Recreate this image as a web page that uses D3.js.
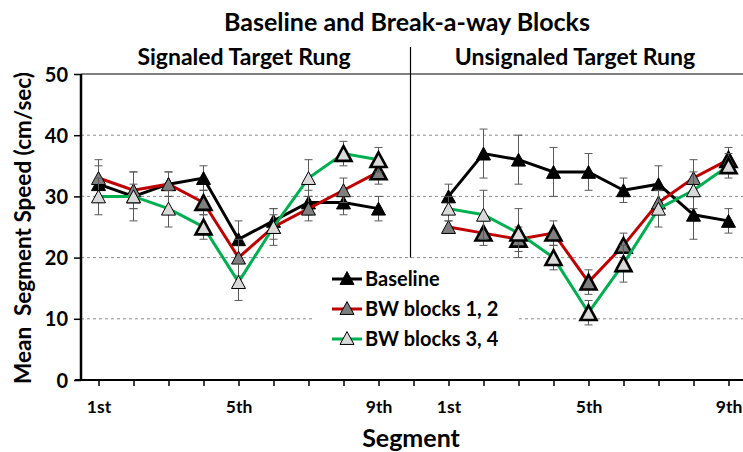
<!DOCTYPE html>
<html><head><meta charset="utf-8">
<script src="https://cdn.jsdelivr.net/npm/d3@7"></script>
<style>
body{margin:0;background:#fff}
text{font-family:Lato,"Open Sans",sans-serif;font-weight:bold;fill:#000}
</style>
</head><body>
<svg id="chart" width="743" height="452"></svg>
<script>
// ---------- data ----------
const chartTitle = "Baseline and Break-a-way Blocks";
const panelTitles = ["Signaled Target Rung", "Unsignaled Target Rung"];
const segmentLabels = ["1st", "", "", "", "5th", "", "", "", "9th"];
const yTicks = [0, 10, 20, 30, 40, 50];
const seriesNames = ["Baseline", "BW blocks 1, 2", "BW blocks 3, 4"];

const baselineSignaled   = [32, 30, 32, 33, 23, 26, 29, 29, 28];
const baselineUnsignaled = [30, 37, 36, 34, 34, 31, 32, 27, 26];
const bw12Signaled       = [33, 31, 32, 29, 20, 25, 28, 31, 34];
const bw12Unsignaled     = [25, 24, 23, 24, 16, 22, 29, 33, 36];
const bw34Signaled       = [30, 30, 28, 25, 16, 25, 33, 37, 36];
const bw34Unsignaled     = [28, 27, 24, 20, 11, 19, 28, 31, 35];

const baselineErrSignaled   = [3, 2, 2, 2, 3, 2, 2, 2, 2];
const baselineErrUnsignaled = [2, 4, 4, 4, 3, 2, 3, 4, 2];
const bw12ErrSignaled       = [3, 3, 2, 2, 3, 2, 2, 2, 2];
const bw12ErrUnsignaled     = [1, 2, 2, 2, 2, 2, 2, 3, 2];
const bw34ErrSignaled       = [3, 4, 3, 2, 3, 3, 3, 2, 2];
const bw34ErrUnsignaled     = [2, 4, 4, 2, 2, 3, 3, 3, 2];

// emphasised (bold-outlined) markers
const baselineSigSignaled   = [0, 0, 0, 0, 0, 0, 0, 0, 0];
const baselineSigUnsignaled = [0, 0, 0, 0, 0, 0, 0, 0, 0];
const bw12SigSignaled       = [0, 0, 0, 1, 0, 0, 0, 0, 1];
const bw12SigUnsignaled     = [0, 1, 1, 1, 1, 1, 0, 0, 1];
const bw34SigSignaled       = [0, 0, 0, 1, 0, 0, 0, 1, 1];
const bw34SigUnsignaled     = [0, 0, 1, 1, 1, 1, 0, 0, 1];

// ---------- build ----------
const styles = [
  {line: "#000000", fill: "#000000"},
  {line: "#C00000", fill: "#7F7F7F"},
  {line: "#00B050", fill: "#D9D9D9"}
];
const seriesData = [
  [baselineSignaled, baselineUnsignaled, baselineErrSignaled, baselineErrUnsignaled, baselineSigSignaled, baselineSigUnsignaled],
  [bw12Signaled, bw12Unsignaled, bw12ErrSignaled, bw12ErrUnsignaled, bw12SigSignaled, bw12SigUnsignaled],
  [bw34Signaled, bw34Unsignaled, bw34ErrSignaled, bw34ErrUnsignaled, bw34SigSignaled, bw34SigUnsignaled]
].map((s, k) => ({
  name: seriesNames[k],
  style: styles[k],
  panels: [0, 1].map(p => s[p].map((v, i) => ({pos: p * 10 + i, v, e: s[2 + p][i], sig: s[4 + p][i]})))
}));

const allLabels = segmentLabels.concat([""], segmentLabels);
const positions = d3.range(allLabels.length);

const svg = d3.select("#chart");
const pLeft = 81, pTop = 74, pBottom = 380, pRight = 743;
const x = d3.scalePoint().domain(positions).range([pLeft, pLeft + 19 * 35.0]).padding(0.5);
const y = d3.scaleLinear().domain([0, 50]).range([pBottom, pTop]);

// gridlines
svg.append("g").selectAll("line").data(yTicks.filter(t => t > 0 && t < 50)).join("line")
  .attr("x1", pLeft).attr("x2", pRight).attr("y1", d => y(d)).attr("y2", d => y(d))
  .attr("stroke", "#8c8c8c").attr("stroke-width", 1).attr("stroke-dasharray", "3,3");
// top border
svg.append("line").attr("x1", pLeft).attr("x2", pRight).attr("y1", y(50)).attr("y2", y(50))
  .attr("stroke", "#000").attr("stroke-width", 1);

// divider
const divX = (x(8) + x(10)) / 2 - 3;
svg.append("line").attr("x1", divX).attr("x2", divX).attr("y1", 47).attr("y2", y(20))
  .attr("stroke", "#000").attr("stroke-width", 1.2);

// y axis
const yAxis = svg.append("g").attr("transform", `translate(${pLeft},0)`)
  .call(d3.axisLeft(y).tickValues(yTicks).tickSize(7).tickPadding(6).tickFormat(d3.format("d")));
yAxis.select(".domain").attr("stroke", "#000").attr("stroke-width", 2.5).attr("d", `M0,${pTop}V${pBottom}`);
yAxis.selectAll(".tick line").attr("stroke", "#000").attr("stroke-width", 1.5);
yAxis.selectAll(".tick text").style("font-size", "20px").attr("dy", "0.35em");

// x axis
const xAxis = svg.append("g").attr("transform", `translate(0,${pBottom})`)
  .call(d3.axisBottom(x).tickSize(6).tickPadding(15).tickFormat(d => allLabels[d]));
xAxis.select(".domain").attr("stroke", "#000").attr("stroke-width", 2).attr("d", `M${pLeft - 6},0H${pRight}`);
xAxis.selectAll(".tick line").attr("stroke", "#000").attr("stroke-width", 1.5);
xAxis.selectAll(".tick text").style("font-size", "17.5px");

// titles
svg.append("text").attr("x", 407).attr("y", 22).attr("text-anchor", "middle").attr("dy", "0.35em")
  .style("font-size", "25px").text(chartTitle);
svg.append("text").attr("x", 244).attr("y", 57).attr("text-anchor", "middle").attr("dy", "0.35em")
  .style("font-size", "23px").text(panelTitles[0]);
svg.append("text").attr("x", 575).attr("y", 57).attr("text-anchor", "middle").attr("dy", "0.35em")
  .style("font-size", "23px").text(panelTitles[1]);
svg.append("text").attr("transform", "translate(23,228) rotate(-90)").attr("text-anchor", "middle")
  .attr("dy", "0.35em").style("font-size", "22.5px").style("white-space", "pre").text("Mean  Segment Speed (cm/sec)");
svg.append("text").attr("x", 411).attr("y", 438).attr("text-anchor", "middle").attr("dy", "0.35em")
  .style("font-size", "25px").text("Segment");

// triangle path
function tri(s) { const h = s * 0.92; return `M0,${-h / 2}L${s / 2},${h / 2}L${-s / 2},${h / 2}Z`; }

const line = d3.line().x(d => x(d.pos)).y(d => y(d.v));
seriesData.forEach(s => {
  const g = svg.append("g");
  s.panels.forEach(pts => {
    const eb = g.append("g").attr("stroke", "#595959").attr("stroke-width", 1);
    pts.forEach(d => {
      eb.append("line").attr("x1", x(d.pos)).attr("x2", x(d.pos)).attr("y1", y(d.v - d.e)).attr("y2", y(d.v + d.e));
      [d.v - d.e, d.v + d.e].forEach(v => eb.append("line")
        .attr("x1", x(d.pos) - 4).attr("x2", x(d.pos) + 4).attr("y1", y(v)).attr("y2", y(v)));
    });
    g.append("path").datum(pts).attr("d", line).attr("fill", "none")
      .attr("stroke", s.style.line).attr("stroke-width", 3);
    g.selectAll(null).data(pts).join("path")
      .attr("transform", d => `translate(${x(d.pos)},${y(d.v)})`)
      .attr("d", d => tri(d.sig ? 16 : 14))
      .attr("fill", s.style.fill).attr("stroke", "#000")
      .attr("stroke-width", d => d.sig ? 2.6 : 1).attr("stroke-linejoin", "miter");
  });
});

// legend
const lg = svg.append("g");
lg.append("rect").attr("x", 314).attr("y", 262).attr("width", 204).attr("height", 90).attr("fill", "#fff");
seriesData.forEach((s, k) => {
  const ly = 279 + k * 30;
  lg.append("line").attr("x1", 332).attr("x2", 362).attr("y1", ly).attr("y2", ly)
    .attr("stroke", s.style.line).attr("stroke-width", 3);
  lg.append("path").attr("transform", `translate(347,${ly - 1})`).attr("d", tri(14))
    .attr("fill", s.style.fill).attr("stroke", "#000").attr("stroke-width", 1);
  lg.append("text").attr("x", 365).attr("y", ly).attr("dy", "0.35em").style("font-size", "20px").text(s.name);
});
</script>
</body></html>
